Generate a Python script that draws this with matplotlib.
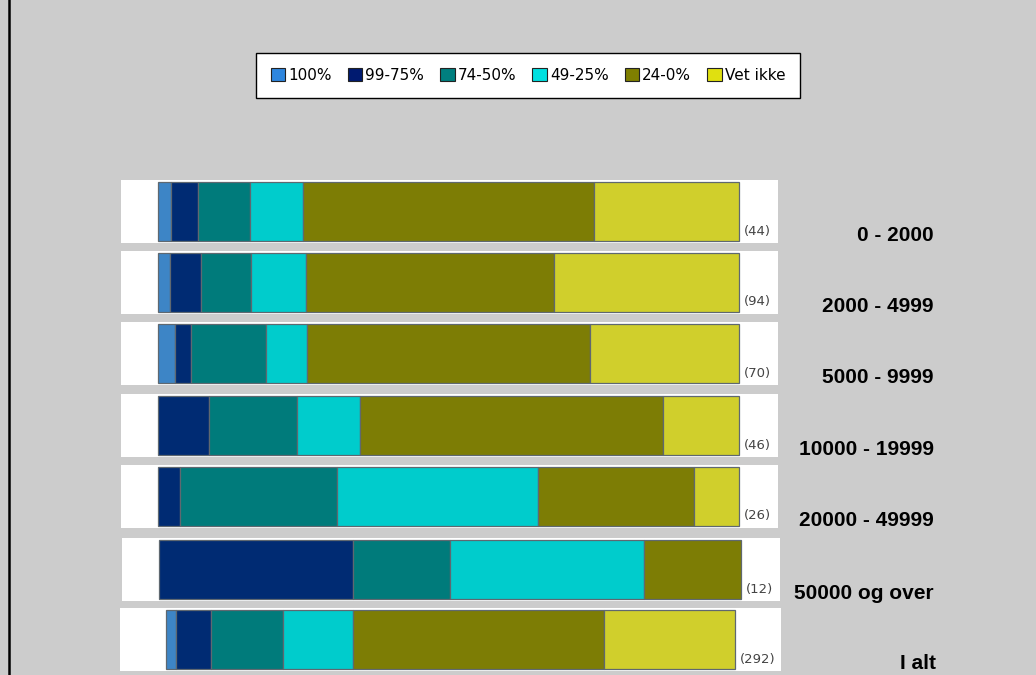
import matplotlib
matplotlib.use("Agg")
import matplotlib.pyplot as plt
from matplotlib.patches import Patch
from matplotlib.lines import Line2D

# answer groups, stacked left to right
groups = ['100%', '99-75%', '74-50%', '49-25%', '24-0%', 'Vet ikke']
# size classes, top to bottom
classes = ['0 - 2000', '2000 - 4999', '5000 - 9999', '10000 - 19999',
           '20000 - 49999', '50000 og over', 'I alt']
# number of answers per group in each class
counts_0_2000 = [1, 2, 4, 4, 22, 11]
counts_2000_4999 = [2, 5, 8, 9, 40, 30]
counts_5000_9999 = [2, 2, 9, 5, 34, 18]
counts_10000_19999 = [0, 4, 7, 5, 24, 6]
counts_20000_49999 = [0, 1, 7, 9, 7, 2]
counts_50000_over = [0, 4, 2, 4, 2, 0]
counts_total = [5, 18, 37, 36, 129, 67]
rows = [counts_0_2000, counts_2000_4999, counts_5000_9999, counts_10000_19999,
        counts_20000_49999, counts_50000_over, counts_total]

bar_colors = ['#3d85c6', '#002b73', '#007b7b', '#00cccc', '#7d7d05', '#d0cf2c']
legend_colors = ['#2e86de', '#001a70', '#007f7f', '#00e0e0', '#7f7f00', '#e0e010']

W, H = 1036, 675
# panel geometry in pixels: left, right, top, bar start, bar end
panels = [
    (121, 778, 180, 158, 739),
    (121, 778, 251, 158, 739),
    (121, 778, 322, 158, 739),
    (121, 778, 394, 158, 739),
    (121, 778, 465, 158, 739),
    (122, 780, 538, 159, 741),
    (120, 781, 608, 166, 735),
]
panel_h = 63
bar_frac = 59 / 63

fig = plt.figure(figsize=(W / 100, H / 100), dpi=100)
fig.patch.set_facecolor('#cccccc')

for counts, label, (pl, pr, pt, bl, br) in zip(rows, classes, panels):
    ax = fig.add_axes([pl / W, 1 - (pt + panel_h) / H, (pr - pl) / W, panel_h / H])
    ax.set_facecolor('white')
    n = sum(counts)
    pct = [100 * c / n for c in counts]
    # percent axis scaled so 0..100 lands on the bar span
    scale = (br - bl) / 100
    ax.set_xlim(-(bl - pl) / scale, 100 + (pr - br) / scale)
    ax.set_ylim(-0.5, 0.5)
    left = 0
    for p, col in zip(pct, bar_colors):
        if p > 0:
            ax.barh(0, p, left=left, height=bar_frac, color=col,
                    edgecolor='#5f6870', linewidth=0.9)
        left += p
    ax.text(left + 5 / scale, -0.5 + 12 / panel_h, f'({n})', ha='left', va='center',
            fontsize=9.5, color='#444444', family='DejaVu Sans')
    ax.set_xticks([])
    ax.set_yticks([])
    for s in ax.spines.values():
        s.set_visible(False)

    # class name to the right, a bit below the panel centre
    xr = 936 if label == 'I alt' else 934
    fig.text(xr / W, 1 - (pt + panel_h / 2 + 24) / H, label, ha='right', va='center',
             fontsize=15, fontweight='bold', family='Liberation Sans')

handles = [Patch(facecolor=c, edgecolor='#222222', linewidth=0.8) for c in legend_colors]
leg = fig.legend(handles, groups, loc='center', bbox_to_anchor=(528 / W, 1 - 75.5 / H),
                 ncol=6, frameon=True, fancybox=False, framealpha=1, fontsize=11,
                 handlelength=0.95, handleheight=0.95, handletextpad=0.2,
                 columnspacing=1.05, borderpad=0.95, borderaxespad=0)
leg.get_frame().set_edgecolor('black')
leg.get_frame().set_facecolor('white')
leg.get_frame().set_linewidth(1.0)

# left frame line
fig.add_artist(Line2D([8.5 / W, 8.5 / W], [0, 1], color='black', linewidth=1.8,
                      transform=fig.transFigure))

fig.savefig('out.png', dpi=100, facecolor=fig.get_facecolor())
